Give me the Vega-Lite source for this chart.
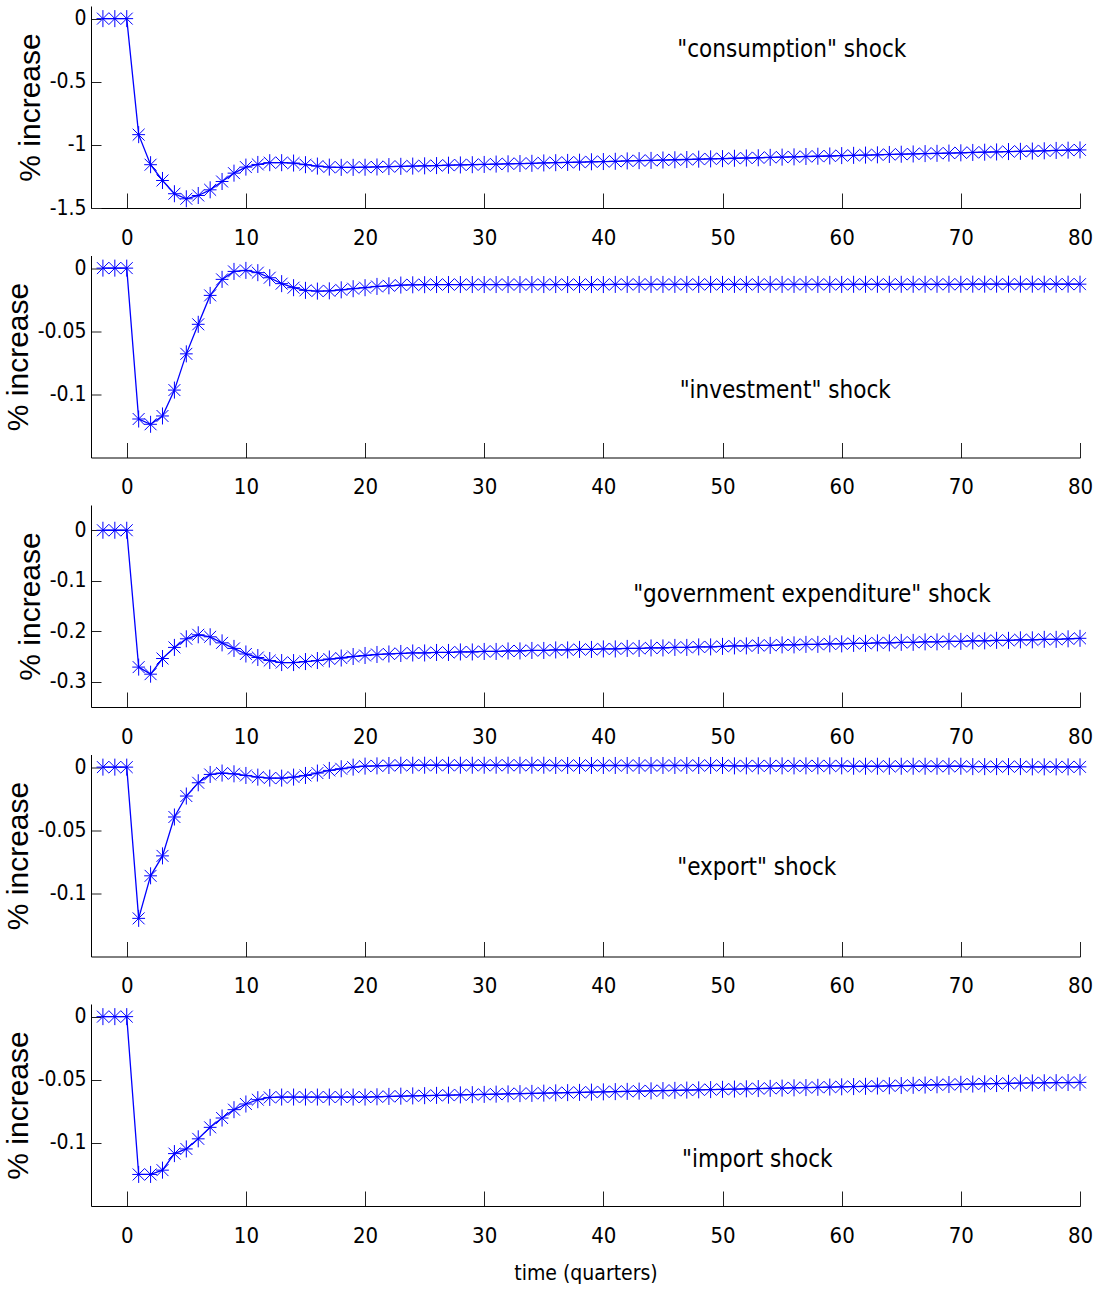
{
"$schema": "https://vega.github.io/schema/vega-lite/v6.json",
"background": "white",
"padding": {"left": 3, "top": 6, "right": 15, "bottom": 5},
"bounds": "flush",
"spacing": 47.5,
"config": {
 "view": {"stroke": null},
 "axis": {"domainColor": "#000", "domainWidth": 1, "tickColor": "#222", "tickWidth": 1, "labelColor": "#000", "labelFont": "'Liberation Sans Narrow', 'DejaVu Sans Condensed', 'Liberation Sans', sans-serif", "labelFontSize": 21, "grid": false, "titleColor": "#000", "titleFontWeight": "normal", "labelFlush": false, "labelOverlap": false},
 "axisX": {"tickSize": -15, "labelPadding": 34, "labelFontSize": 22},
 "axisY": {"tickSize": -10, "labelPadding": 15, "format": "~g", "labelExpr": "replace(datum.label, '\u2212', '-')", "titleFont": "'Liberation Sans', Arial, sans-serif", "titleFontSize": 30, "titlePadding": 4},
 "text": {"font": "'Liberation Sans Narrow', 'DejaVu Sans Condensed', 'Liberation Sans', sans-serif", "fontSize": 24, "color": "#000"}
},
"datasets": {
 "p1": [{"t":-2,"v":0},{"t":-1,"v":0},{"t":0,"v":0},{"t":1,"v":-0.919},{"t":2,"v":-1.157},{"t":3,"v":-1.282},{"t":4,"v":-1.387},{"t":5,"v":-1.427},{"t":6,"v":-1.401},{"t":7,"v":-1.356},{"t":8,"v":-1.29},{"t":9,"v":-1.224},{"t":10,"v":-1.176},{"t":11,"v":-1.155},{"t":12,"v":-1.141},{"t":13,"v":-1.141},{"t":14,"v":-1.144},{"t":15,"v":-1.157},{"t":16,"v":-1.168},{"t":17,"v":-1.176},{"t":18,"v":-1.178},{"t":19,"v":-1.178},{"t":20,"v":-1.177},{"t":21,"v":-1.175},{"t":22,"v":-1.172},{"t":23,"v":-1.170},{"t":24,"v":-1.168},{"t":25,"v":-1.166},{"t":26,"v":-1.164},{"t":27,"v":-1.161},{"t":28,"v":-1.159},{"t":29,"v":-1.157},{"t":30,"v":-1.155},{"t":31,"v":-1.152},{"t":32,"v":-1.150},{"t":33,"v":-1.148},{"t":34,"v":-1.146},{"t":35,"v":-1.143},{"t":36,"v":-1.141},{"t":37,"v":-1.139},{"t":38,"v":-1.137},{"t":39,"v":-1.134},{"t":40,"v":-1.132},{"t":41,"v":-1.130},{"t":42,"v":-1.127},{"t":43,"v":-1.125},{"t":44,"v":-1.123},{"t":45,"v":-1.120},{"t":46,"v":-1.118},{"t":47,"v":-1.116},{"t":48,"v":-1.113},{"t":49,"v":-1.111},{"t":50,"v":-1.109},{"t":51,"v":-1.106},{"t":52,"v":-1.104},{"t":53,"v":-1.102},{"t":54,"v":-1.099},{"t":55,"v":-1.097},{"t":56,"v":-1.095},{"t":57,"v":-1.092},{"t":58,"v":-1.090},{"t":59,"v":-1.088},{"t":60,"v":-1.085},{"t":61,"v":-1.083},{"t":62,"v":-1.081},{"t":63,"v":-1.079},{"t":64,"v":-1.076},{"t":65,"v":-1.074},{"t":66,"v":-1.072},{"t":67,"v":-1.069},{"t":68,"v":-1.067},{"t":69,"v":-1.065},{"t":70,"v":-1.063},{"t":71,"v":-1.060},{"t":72,"v":-1.058},{"t":73,"v":-1.056},{"t":74,"v":-1.053},{"t":75,"v":-1.051},{"t":76,"v":-1.049},{"t":77,"v":-1.047},{"t":78,"v":-1.044},{"t":79,"v":-1.042},{"t":80,"v":-1.040}],
 "p2": [{"t":-2,"v":0},{"t":-1,"v":0},{"t":0,"v":0},{"t":1,"v":-0.1195},{"t":2,"v":-0.1237},{"t":3,"v":-0.1171},{"t":4,"v":-0.0966},{"t":5,"v":-0.0679},{"t":6,"v":-0.0445},{"t":7,"v":-0.0216},{"t":8,"v":-0.0089},{"t":9,"v":-0.0026},{"t":10,"v":-0.0018},{"t":11,"v":-0.0036},{"t":12,"v":-0.0076},{"t":13,"v":-0.0123},{"t":14,"v":-0.0155},{"t":15,"v":-0.0176},{"t":16,"v":-0.0182},{"t":17,"v":-0.018},{"t":18,"v":-0.0172},{"t":19,"v":-0.0163},{"t":20,"v":-0.0155},{"t":21,"v":-0.0145},{"t":22,"v":-0.014},{"t":23,"v":-0.0134},{"t":24,"v":-0.0132},{"t":25,"v":-0.0131},{"t":26,"v":-0.013},{"t":27,"v":-0.013},{"t":28,"v":-0.013},{"t":29,"v":-0.013},{"t":30,"v":-0.013},{"t":31,"v":-0.013},{"t":32,"v":-0.013},{"t":33,"v":-0.013},{"t":34,"v":-0.013},{"t":35,"v":-0.013},{"t":36,"v":-0.013},{"t":37,"v":-0.013},{"t":38,"v":-0.013},{"t":39,"v":-0.013},{"t":40,"v":-0.013},{"t":41,"v":-0.0129},{"t":42,"v":-0.0129},{"t":43,"v":-0.0129},{"t":44,"v":-0.0129},{"t":45,"v":-0.0129},{"t":46,"v":-0.0129},{"t":47,"v":-0.0129},{"t":48,"v":-0.0129},{"t":49,"v":-0.0129},{"t":50,"v":-0.0129},{"t":51,"v":-0.0129},{"t":52,"v":-0.0129},{"t":53,"v":-0.0129},{"t":54,"v":-0.0129},{"t":55,"v":-0.0129},{"t":56,"v":-0.0129},{"t":57,"v":-0.0129},{"t":58,"v":-0.0129},{"t":59,"v":-0.0129},{"t":60,"v":-0.0129},{"t":61,"v":-0.0128},{"t":62,"v":-0.0128},{"t":63,"v":-0.0128},{"t":64,"v":-0.0128},{"t":65,"v":-0.0128},{"t":66,"v":-0.0128},{"t":67,"v":-0.0128},{"t":68,"v":-0.0128},{"t":69,"v":-0.0128},{"t":70,"v":-0.0128},{"t":71,"v":-0.0127},{"t":72,"v":-0.0127},{"t":73,"v":-0.0127},{"t":74,"v":-0.0127},{"t":75,"v":-0.0127},{"t":76,"v":-0.0127},{"t":77,"v":-0.0127},{"t":78,"v":-0.0127},{"t":79,"v":-0.0127},{"t":80,"v":-0.0127}],
 "p3": [{"t":-2,"v":0},{"t":-1,"v":0},{"t":0,"v":0},{"t":1,"v":-0.271},{"t":2,"v":-0.285},{"t":3,"v":-0.254},{"t":4,"v":-0.232},{"t":5,"v":-0.215},{"t":6,"v":-0.207},{"t":7,"v":-0.211},{"t":8,"v":-0.223},{"t":9,"v":-0.234},{"t":10,"v":-0.245},{"t":11,"v":-0.252},{"t":12,"v":-0.258},{"t":13,"v":-0.262},{"t":14,"v":-0.262},{"t":15,"v":-0.26},{"t":16,"v":-0.258},{"t":17,"v":-0.255},{"t":18,"v":-0.253},{"t":19,"v":-0.25},{"t":20,"v":-0.248},{"t":21,"v":-0.246},{"t":22,"v":-0.245},{"t":23,"v":-0.244},{"t":24,"v":-0.243},{"t":25,"v":-0.243},{"t":26,"v":-0.242},{"t":27,"v":-0.242},{"t":28,"v":-0.241},{"t":29,"v":-0.241},{"t":30,"v":-0.240},{"t":31,"v":-0.240},{"t":32,"v":-0.239},{"t":33,"v":-0.239},{"t":34,"v":-0.238},{"t":35,"v":-0.238},{"t":36,"v":-0.237},{"t":37,"v":-0.237},{"t":38,"v":-0.236},{"t":39,"v":-0.236},{"t":40,"v":-0.235},{"t":41,"v":-0.235},{"t":42,"v":-0.234},{"t":43,"v":-0.234},{"t":44,"v":-0.233},{"t":45,"v":-0.233},{"t":46,"v":-0.232},{"t":47,"v":-0.232},{"t":48,"v":-0.231},{"t":49,"v":-0.231},{"t":50,"v":-0.230},{"t":51,"v":-0.229},{"t":52,"v":-0.229},{"t":53,"v":-0.228},{"t":54,"v":-0.228},{"t":55,"v":-0.227},{"t":56,"v":-0.227},{"t":57,"v":-0.226},{"t":58,"v":-0.226},{"t":59,"v":-0.225},{"t":60,"v":-0.225},{"t":61,"v":-0.224},{"t":62,"v":-0.224},{"t":63,"v":-0.223},{"t":64,"v":-0.223},{"t":65,"v":-0.222},{"t":66,"v":-0.222},{"t":67,"v":-0.221},{"t":68,"v":-0.221},{"t":69,"v":-0.220},{"t":70,"v":-0.220},{"t":71,"v":-0.219},{"t":72,"v":-0.219},{"t":73,"v":-0.218},{"t":74,"v":-0.218},{"t":75,"v":-0.217},{"t":76,"v":-0.217},{"t":77,"v":-0.216},{"t":78,"v":-0.216},{"t":79,"v":-0.215},{"t":80,"v":-0.214}],
 "p4": [{"t":-2,"v":0},{"t":-1,"v":0},{"t":0,"v":0},{"t":1,"v":-0.1198},{"t":2,"v":-0.0861},{"t":3,"v":-0.0703},{"t":4,"v":-0.0395},{"t":5,"v":-0.0229},{"t":6,"v":-0.0124},{"t":7,"v":-0.0058},{"t":8,"v":-0.0047},{"t":9,"v":-0.0053},{"t":10,"v":-0.0066},{"t":11,"v":-0.0079},{"t":12,"v":-0.0087},{"t":13,"v":-0.0087},{"t":14,"v":-0.0079},{"t":15,"v":-0.0066},{"t":16,"v":-0.0047},{"t":17,"v":-0.0026},{"t":18,"v":-0.0013},{"t":19,"v":0},{"t":20,"v":0.0008},{"t":21,"v":0.001},{"t":22,"v":0.0013},{"t":23,"v":0.0015},{"t":24,"v":0.0015},{"t":25,"v":0.0015},{"t":26,"v":0.0015},{"t":27,"v":0.0015},{"t":28,"v":0.0015},{"t":29,"v":0.0015},{"t":30,"v":0.0015},{"t":31,"v":0.0015},{"t":32,"v":0.0015},{"t":33,"v":0.0015},{"t":34,"v":0.0015},{"t":35,"v":0.0015},{"t":36,"v":0.0013},{"t":37,"v":0.0013},{"t":38,"v":0.0013},{"t":39,"v":0.0013},{"t":40,"v":0.0013},{"t":41,"v":0.0013},{"t":42,"v":0.0013},{"t":43,"v":0.0013},{"t":44,"v":0.0013},{"t":45,"v":0.0013},{"t":46,"v":0.0013},{"t":47,"v":0.0013},{"t":48,"v":0.0013},{"t":49,"v":0.0013},{"t":50,"v":0.0013},{"t":51,"v":0.001},{"t":52,"v":0.001},{"t":53,"v":0.001},{"t":54,"v":0.001},{"t":55,"v":0.001},{"t":56,"v":0.001},{"t":57,"v":0.001},{"t":58,"v":0.001},{"t":59,"v":0.001},{"t":60,"v":0.001},{"t":61,"v":0.0007},{"t":62,"v":0.0007},{"t":63,"v":0.0007},{"t":64,"v":0.0007},{"t":65,"v":0.0007},{"t":66,"v":0.0007},{"t":67,"v":0.0007},{"t":68,"v":0.0007},{"t":69,"v":0.0007},{"t":70,"v":0.0007},{"t":71,"v":0.0004},{"t":72,"v":0.0004},{"t":73,"v":0.0004},{"t":74,"v":0.0004},{"t":75,"v":0.0004},{"t":76,"v":0.0002},{"t":77,"v":0.0002},{"t":78,"v":0.0002},{"t":79,"v":0.0002},{"t":80,"v":0.0002}],
 "p5": [{"t":-2,"v":0},{"t":-1,"v":0},{"t":0,"v":0},{"t":1,"v":-0.125},{"t":2,"v":-0.125},{"t":3,"v":-0.1216},{"t":4,"v":-0.1085},{"t":5,"v":-0.1048},{"t":6,"v":-0.0968},{"t":7,"v":-0.0877},{"t":8,"v":-0.0803},{"t":9,"v":-0.0737},{"t":10,"v":-0.0692},{"t":11,"v":-0.0658},{"t":12,"v":-0.064},{"t":13,"v":-0.0637},{"t":14,"v":-0.0637},{"t":15,"v":-0.0637},{"t":16,"v":-0.0637},{"t":17,"v":-0.0637},{"t":18,"v":-0.0637},{"t":19,"v":-0.0637},{"t":20,"v":-0.0637},{"t":21,"v":-0.0635},{"t":22,"v":-0.0632},{"t":23,"v":-0.0630},{"t":24,"v":-0.0628},{"t":25,"v":-0.0626},{"t":26,"v":-0.0624},{"t":27,"v":-0.0622},{"t":28,"v":-0.0620},{"t":29,"v":-0.0618},{"t":30,"v":-0.0616},{"t":31,"v":-0.0614},{"t":32,"v":-0.0612},{"t":33,"v":-0.0610},{"t":34,"v":-0.0608},{"t":35,"v":-0.0606},{"t":36,"v":-0.0604},{"t":37,"v":-0.0602},{"t":38,"v":-0.0600},{"t":39,"v":-0.0598},{"t":40,"v":-0.0596},{"t":41,"v":-0.0594},{"t":42,"v":-0.0592},{"t":43,"v":-0.0590},{"t":44,"v":-0.0588},{"t":45,"v":-0.0586},{"t":46,"v":-0.0584},{"t":47,"v":-0.0582},{"t":48,"v":-0.0580},{"t":49,"v":-0.0578},{"t":50,"v":-0.0576},{"t":51,"v":-0.0574},{"t":52,"v":-0.0572},{"t":53,"v":-0.0570},{"t":54,"v":-0.0568},{"t":55,"v":-0.0566},{"t":56,"v":-0.0564},{"t":57,"v":-0.0562},{"t":58,"v":-0.0560},{"t":59,"v":-0.0558},{"t":60,"v":-0.0556},{"t":61,"v":-0.0554},{"t":62,"v":-0.0552},{"t":63,"v":-0.0550},{"t":64,"v":-0.0548},{"t":65,"v":-0.0546},{"t":66,"v":-0.0544},{"t":67,"v":-0.0542},{"t":68,"v":-0.0540},{"t":69,"v":-0.0538},{"t":70,"v":-0.0536},{"t":71,"v":-0.0534},{"t":72,"v":-0.0532},{"t":73,"v":-0.0530},{"t":74,"v":-0.0528},{"t":75,"v":-0.0526},{"t":76,"v":-0.0525},{"t":77,"v":-0.0524},{"t":78,"v":-0.0523},{"t":79,"v":-0.0522},{"t":80,"v":-0.0521}]
},
"vconcat": [
 {"width": 989, "height": 202, "data": {"name": "p1"},
  "encoding": {
   "x": {"field": "t", "type": "quantitative", "scale": {"domain": [-3, 80], "nice": false, "zero": false}, "axis": {"title": null, "values": [0,10,20,30,40,50,60,70,80]}},
   "y": {"field": "v", "type": "quantitative", "scale": {"domain": [-1.5, 0.1], "nice": false, "zero": false}, "axis": {"title": "% increase", "values": [0, -0.5, -1, -1.5]}}
  },
  "layer": [
   {"data": {"values": [{"v": 0}]}, "mark": {"type": "rule", "color": "#4a4236", "strokeWidth": 2}, "encoding": {"x": {"datum": -3}, "x2": {"datum": 80}}},
   {"mark": {"type": "line", "color": "#0000ff", "strokeWidth": 1.3}},
   {"mark": {"type": "point", "shape": "M0,-1L0,1M-0.75,0L0.75,0M-0.7,-0.7L0.7,0.7M-0.7,0.7L0.7,-0.7", "size": 290, "stroke": "#0000ff", "strokeWidth": 1, "filled": false, "opacity": 1}},
   {"data": {"values": [{"t": 46.2, "v": -0.25, "label": "\"consumption\" shock"}]}, "mark": {"type": "text", "align": "left", "baseline": "middle"}, "encoding": {"text": {"field": "label"}}}
  ]
 },
 {"width": 989, "height": 202, "data": {"name": "p2"},
  "encoding": {
   "x": {"field": "t", "type": "quantitative", "scale": {"domain": [-3, 80], "nice": false, "zero": false}, "axis": {"title": null, "values": [0,10,20,30,40,50,60,70,80]}},
   "y": {"field": "v", "type": "quantitative", "scale": {"domain": [-0.15, 0.01], "nice": false, "zero": false}, "axis": {"title": "% increase", "values": [0, -0.05, -0.1]}}
  },
  "layer": [
   {"data": {"values": [{"v": 0}]}, "mark": {"type": "rule", "color": "#4a4236", "strokeWidth": 2}, "encoding": {"x": {"datum": -3}, "x2": {"datum": 80}}},
   {"mark": {"type": "line", "color": "#0000ff", "strokeWidth": 1.3}},
   {"mark": {"type": "point", "shape": "M0,-1L0,1M-0.75,0L0.75,0M-0.7,-0.7L0.7,0.7M-0.7,0.7L0.7,-0.7", "size": 290, "stroke": "#0000ff", "strokeWidth": 1, "filled": false, "opacity": 1}},
   {"data": {"values": [{"t": 46.4, "v": -0.097, "label": "\"investment\" shock"}]}, "mark": {"type": "text", "align": "left", "baseline": "middle"}, "encoding": {"text": {"field": "label"}}}
  ]
 },
 {"width": 989, "height": 202, "data": {"name": "p3"},
  "encoding": {
   "x": {"field": "t", "type": "quantitative", "scale": {"domain": [-3, 80], "nice": false, "zero": false}, "axis": {"title": null, "values": [0,10,20,30,40,50,60,70,80]}},
   "y": {"field": "v", "type": "quantitative", "scale": {"domain": [-0.35, 0.05], "nice": false, "zero": false}, "axis": {"title": "% increase", "values": [0, -0.1, -0.2, -0.3]}}
  },
  "layer": [
   {"data": {"values": [{"v": 0}]}, "mark": {"type": "rule", "color": "#4a4236", "strokeWidth": 2}, "encoding": {"x": {"datum": -3}, "x2": {"datum": 80}}},
   {"mark": {"type": "line", "color": "#0000ff", "strokeWidth": 1.3}},
   {"mark": {"type": "point", "shape": "M0,-1L0,1M-0.75,0L0.75,0M-0.7,-0.7L0.7,0.7M-0.7,0.7L0.7,-0.7", "size": 290, "stroke": "#0000ff", "strokeWidth": 1, "filled": false, "opacity": 1}},
   {"data": {"values": [{"t": 42.5, "v": -0.128, "label": "\"government expenditure\" shock"}]}, "mark": {"type": "text", "align": "left", "baseline": "middle"}, "encoding": {"text": {"field": "label"}}}
  ]
 },
 {"width": 989, "height": 202, "data": {"name": "p4"},
  "encoding": {
   "x": {"field": "t", "type": "quantitative", "scale": {"domain": [-3, 80], "nice": false, "zero": false}, "axis": {"title": null, "values": [0,10,20,30,40,50,60,70,80]}},
   "y": {"field": "v", "type": "quantitative", "scale": {"domain": [-0.15, 0.01], "nice": false, "zero": false}, "axis": {"title": "% increase", "values": [0, -0.05, -0.1]}}
  },
  "layer": [
   {"data": {"values": [{"v": 0}]}, "mark": {"type": "rule", "color": "#4a4236", "strokeWidth": 2}, "encoding": {"x": {"datum": -3}, "x2": {"datum": 80}}},
   {"mark": {"type": "line", "color": "#0000ff", "strokeWidth": 1.3}},
   {"mark": {"type": "point", "shape": "M0,-1L0,1M-0.75,0L0.75,0M-0.7,-0.7L0.7,0.7M-0.7,0.7L0.7,-0.7", "size": 290, "stroke": "#0000ff", "strokeWidth": 1, "filled": false, "opacity": 1}},
   {"data": {"values": [{"t": 46.2, "v": -0.080, "label": "\"export\" shock"}]}, "mark": {"type": "text", "align": "left", "baseline": "middle"}, "encoding": {"text": {"field": "label"}}}
  ]
 },
 {"width": 989, "height": 202, "data": {"name": "p5"},
  "encoding": {
   "x": {"field": "t", "type": "quantitative", "scale": {"domain": [-3, 80], "nice": false, "zero": false}, "axis": {"title": "time (quarters)", "values": [0,10,20,30,40,50,60,70,80], "titleFont": "'Liberation Sans Narrow', 'DejaVu Sans Condensed', 'Liberation Sans', sans-serif", "titleFontSize": 21, "titlePadding": 16}},
   "y": {"field": "v", "type": "quantitative", "scale": {"domain": [-0.15, 0.01], "nice": false, "zero": false}, "axis": {"title": "% increase", "values": [0, -0.05, -0.1]}}
  },
  "layer": [
   {"data": {"values": [{"v": 0}]}, "mark": {"type": "rule", "color": "#4a4236", "strokeWidth": 2}, "encoding": {"x": {"datum": -3}, "x2": {"datum": 80}}},
   {"mark": {"type": "line", "color": "#0000ff", "strokeWidth": 1.3}},
   {"mark": {"type": "point", "shape": "M0,-1L0,1M-0.75,0L0.75,0M-0.7,-0.7L0.7,0.7M-0.7,0.7L0.7,-0.7", "size": 290, "stroke": "#0000ff", "strokeWidth": 1, "filled": false, "opacity": 1}},
   {"data": {"values": [{"t": 46.6, "v": -0.1135, "label": "\"import shock"}]}, "mark": {"type": "text", "align": "left", "baseline": "middle"}, "encoding": {"text": {"field": "label"}}}
  ]
 }
]
}
